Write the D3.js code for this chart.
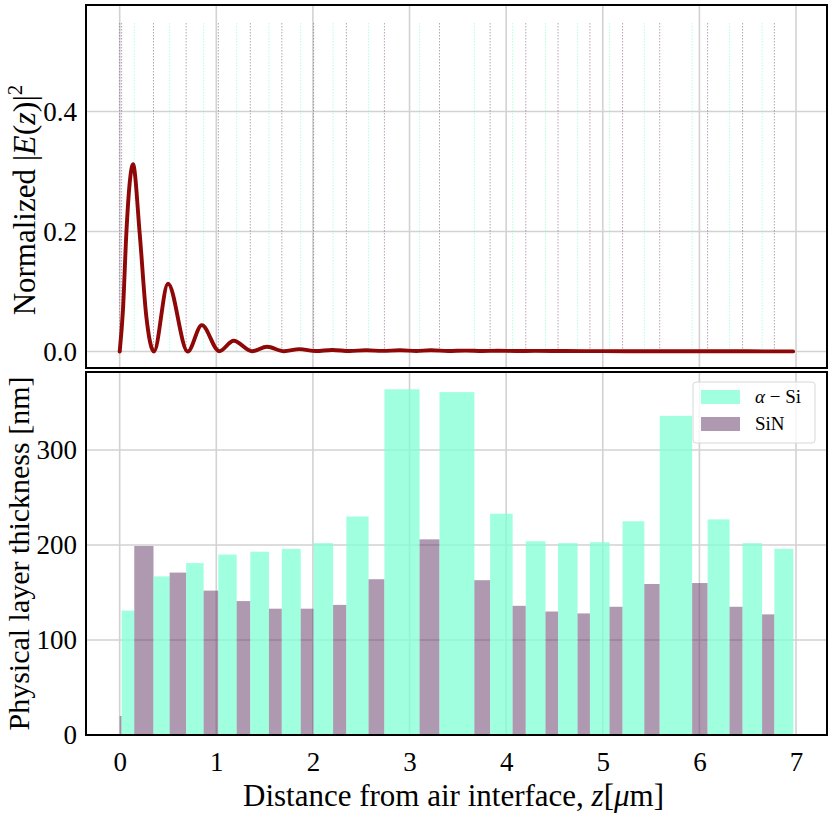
<!DOCTYPE html>
<html>
<head>
<meta charset="utf-8">
<script src="https://cdn.jsdelivr.net/npm/d3@7"></script>
<style>
  body { margin: 0; background: #fff; }
  text { font-family: 'Liberation Serif', 'DejaVu Serif', serif; fill: #000; }
</style>
</head>
<body>
<svg id="chart" width="830" height="816"></svg>
<script>
// layer stack from the air side down, thickness in nm
var layerType = ['SiN', 'aSi', 'SiN', 'aSi', 'SiN', 'aSi', 'SiN', 'aSi', 'SiN', 'aSi',
                 'SiN', 'aSi', 'SiN', 'aSi', 'SiN', 'aSi', 'SiN', 'aSi', 'SiN', 'aSi',
                 'SiN', 'aSi', 'SiN', 'aSi', 'SiN', 'aSi', 'SiN', 'aSi', 'SiN', 'aSi',
                 'SiN', 'aSi', 'SiN', 'aSi', 'SiN', 'aSi', 'SiN', 'aSi'];
var layerThickness = [20, 131, 199, 167, 171, 181, 152, 190, 141, 193,
                      133, 196, 133, 202, 137, 230, 164, 364, 206, 361,
                      163, 233, 136, 204, 130, 202, 128, 203, 135, 225,
                      159, 336, 160, 227, 135, 202, 127, 196];

// normalized |E(z)|^2
var fieldZ = [0, 0.034, 0.069, 0.103, 0.138, 0.207, 0.276, 0.355, 0.50, 0.704,
              0.85, 1.03, 1.18, 1.37, 1.525, 1.70, 1.86, 2.03, 2.20, 2.38,
              2.55, 2.72, 2.90, 3.07, 3.22, 3.40, 3.58, 3.75, 3.92, 4.10,
              4.30, 4.60, 5.00, 5.50, 6.00, 6.50, 6.97];
var fieldE = [0, 0.069, 0.197, 0.28, 0.312, 0.197, 0.058, 0, 0.113, 0,
              0.044, 0.0005, 0.018, 0.0005, 0.008, 0.0005, 0.004, 0.0008, 0.0025, 0.0008,
              0.002, 0.001, 0.002, 0.0008, 0.002, 0.0008, 0.0015, 0.0008, 0.0012, 0.0008,
              0.001, 0.0008, 0.0006, 0.0005, 0.0004, 0.0003, 0.0002];

var xTicks = [0, 1, 2, 3, 4, 5, 6, 7];
var fieldTicks = [0, 0.2, 0.4];
var thickTicks = [0, 100, 200, 300];
var markerTop = 0.55;

var colors = { aSi: '#7fffd4', SiN: '#5d3361' };

// build the stack positions (um)
var layers = [];
var pos = 0;
layerThickness.forEach(function(t, i) {
  layers.push({ type: layerType[i], start: pos, end: pos + t / 1000, t: t });
  pos += t / 1000;
});
var total = pos;

var svg = d3.select('#chart');
var left = 86, right = 827;
var top1 = 5, bot1 = 368, top2 = 372, bot2 = 735;

var x = d3.scaleLinear().domain([-total * 0.05, total * 1.05]).range([left, right]);
var yE = d3.scaleLinear().domain([-markerTop * 0.05, markerTop * 1.05]).range([bot1, top1]);
var yT = d3.scaleLinear().domain([0, d3.max(layerThickness) * 1.05]).range([bot2, top2]);

svg.append('clipPath').attr('id', 'clipTop')
  .append('rect').attr('x', left).attr('y', top1).attr('width', right - left).attr('height', bot1 - top1);
svg.append('clipPath').attr('id', 'clipBot')
  .append('rect').attr('x', left).attr('y', top2).attr('width', right - left).attr('height', bot2 - top2);

function grid(g, yScale, yTicks, y0, y1) {
  g.selectAll('line.gx').data(xTicks).enter().append('line')
    .attr('x1', function(d) { return x(d); }).attr('x2', function(d) { return x(d); })
    .attr('y1', y0).attr('y2', y1);
  g.selectAll('line.gy').data(yTicks).enter().append('line')
    .attr('x1', left).attr('x2', right)
    .attr('y1', function(d) { return yScale(d); }).attr('y2', function(d) { return yScale(d); });
  g.selectAll('line').attr('stroke', '#d2d2d2').attr('stroke-width', 1.6);
}

// ---- top panel ----
var gTop = svg.append('g').attr('clip-path', 'url(#clipTop)');
grid(gTop.append('g'), yE, fieldTicks, top1, bot1);

// layer boundaries (end of each layer, plus the air interface)
var bounds = [{ z: 0, type: layers[0].type }];
layers.slice(0, -1).forEach(function(l) { bounds.push({ z: l.end, type: l.type }); });
gTop.selectAll('line.bound').data(bounds).enter().append('line')
  .attr('class', 'bound')
  .attr('x1', function(d) { return x(d.z); }).attr('x2', function(d) { return x(d.z); })
  .attr('y1', yE(0)).attr('y2', yE(markerTop))
  .attr('stroke', function(d) { return colors[d.type]; })
  .attr('stroke-opacity', function(d) { return d.type == 'SiN' ? 0.45 : 0.6; })
  .attr('stroke-width', 1)
  .attr('stroke-dasharray', '1.5,1.5');

var line = d3.line()
  .x(function(d, i) { return x(fieldZ[i]); })
  .y(function(d) { return yE(d); })
  .curve(d3.curveMonotoneX);
gTop.append('path').datum(fieldE)
  .attr('d', line)
  .attr('fill', 'none')
  .attr('stroke', '#8e0808')
  .attr('stroke-width', 3.9)
  .attr('stroke-linejoin', 'round')
  .attr('stroke-linecap', 'round');

svg.append('g').attr('transform', 'translate(' + left + ',0)')
  .call(d3.axisLeft(yE).tickValues(fieldTicks).tickSize(0).tickPadding(9).tickFormat(d3.format('.1f')))
  .call(function(g) { g.select('.domain').remove(); })
  .selectAll('text').style('font-size', '27px').style('font-family', "'Liberation Serif', serif");

svg.append('rect').attr('x', left).attr('y', top1).attr('width', right - left).attr('height', bot1 - top1)
  .attr('fill', 'none').attr('stroke', '#000').attr('stroke-width', 2);

var lab1 = svg.append('text')
  .attr('transform', 'translate(35,200) rotate(-90)')
  .attr('text-anchor', 'middle')
  .style('font-size', '31px');
lab1.append('tspan').text('Normalized ');
lab1.append('tspan').style('font-size', '32px').text('|');
lab1.append('tspan').style('font-size', '32px').attr('font-style', 'italic').text('E');
lab1.append('tspan').style('font-size', '32px').text('(');
lab1.append('tspan').style('font-size', '32px').attr('font-style', 'italic').text('z');
lab1.append('tspan').style('font-size', '32px').text(')|');
lab1.append('tspan').attr('dy', -13).style('font-size', '21px').text('2');

// ---- bottom panel ----
var gBot = svg.append('g').attr('clip-path', 'url(#clipBot)');
grid(gBot.append('g'), yT, thickTicks, top2, bot2);

gBot.selectAll('rect.layer').data(layers).enter().append('rect')
  .attr('class', 'layer')
  .attr('x', function(d) { return x(d.start); })
  .attr('width', function(d) { return x(d.end) - x(d.start); })
  .attr('y', function(d) { return yT(d.t); })
  .attr('height', function(d) { return yT(0) - yT(d.t); })
  .attr('fill', function(d) { return colors[d.type]; })
  .attr('fill-opacity', function(d) { return d.type == 'SiN' ? 0.5 : 0.75; });

svg.append('g').attr('transform', 'translate(' + left + ',0)')
  .call(d3.axisLeft(yT).tickValues(thickTicks).tickSize(0).tickPadding(9).tickFormat(d3.format('d')))
  .call(function(g) { g.select('.domain').remove(); })
  .selectAll('text').style('font-size', '27px').style('font-family', "'Liberation Serif', serif");

svg.append('g').attr('transform', 'translate(0,' + bot2 + ')')
  .call(d3.axisBottom(x).tickValues(xTicks).tickSize(0).tickPadding(17).tickFormat(d3.format('d')))
  .call(function(g) { g.select('.domain').remove(); })
  .selectAll('text').style('font-size', '27px').style('font-family', "'Liberation Serif', serif");

svg.append('rect').attr('x', left).attr('y', top2).attr('width', right - left).attr('height', bot2 - top2)
  .attr('fill', 'none').attr('stroke', '#000').attr('stroke-width', 2);

svg.append('text')
  .attr('transform', 'translate(29,' + ((top2 + bot2) / 2) + ') rotate(-90)')
  .attr('text-anchor', 'middle')
  .style('font-size', '30px')
  .text('Physical layer thickness [nm]');

var xl = svg.append('text')
  .attr('x', (left + right) / 2 - 3).attr('y', 806)
  .attr('text-anchor', 'middle')
  .style('font-size', '31px');
xl.append('tspan').text('Distance from air interface, ');
xl.append('tspan').attr('font-style', 'italic').text('z');
xl.append('tspan').text('[');
xl.append('tspan').attr('font-style', 'italic').text('\u03bc');
xl.append('tspan').text('m]');

// legend
var legend = svg.append('g').attr('transform', 'translate(693,382)');
legend.append('rect').attr('width', 122).attr('height', 61).attr('rx', 3)
  .attr('fill', '#fff').attr('fill-opacity', 0.8)
  .attr('stroke', '#d8d8d8').attr('stroke-width', 1);
var legendItems = [{ type: 'aSi' }, { type: 'SiN' }];
var li = legend.selectAll('g.item').data(legendItems).enter().append('g')
  .attr('transform', function(d, i) { return 'translate(8,' + (8 + i * 27) + ')'; });
li.append('rect').attr('width', 39).attr('height', 14)
  .attr('fill', function(d) { return colors[d.type]; })
  .attr('fill-opacity', function(d) { return d.type == 'SiN' ? 0.5 : 0.75; });
var t0 = legend.append('text').attr('x', 62).attr('y', 21).style('font-size', '19px');
t0.append('tspan').attr('font-style', 'italic').text('\u03b1');
t0.append('tspan').text(' \u2212 Si');
legend.append('text').attr('x', 62).attr('y', 48).style('font-size', '19px').text('SiN');
</script>
</body>
</html>
